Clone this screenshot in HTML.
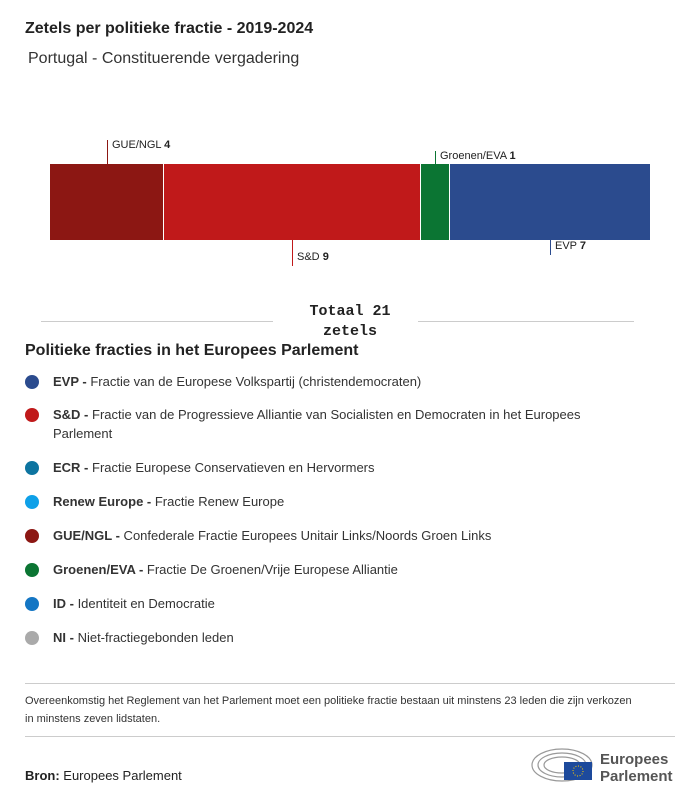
<!DOCTYPE html>
<html><head><meta charset="utf-8"><style>
body{margin:0;width:700px;height:801px;background:#fff;font-family:"Liberation Sans",sans-serif;color:#222;position:relative;overflow:hidden}
.a{position:absolute}
.lbl{font-size:11px;white-space:nowrap}
.leg{position:absolute;left:25px;font-size:13px;color:#333;width:600px;line-height:19px}
.leg i{position:absolute;left:0;top:3px;width:14px;height:14px;border-radius:50%}
.leg span{display:block;margin-left:28px}
.hr{position:absolute;height:1px;background:#ccc}
</style></head><body>
<div class="a" style="left:25px;top:20px;font-size:16px;font-weight:bold">Zetels per politieke fractie - 2019-2024</div>
<div class="a" style="left:28px;top:50px;font-size:16px;color:#333">Portugal - Constituerende vergadering</div>

<div class="a" style="left:50px;top:164px;width:113px;height:76px;background:#8c1713"></div>
<div class="a" style="left:164px;top:164px;width:256px;height:76px;background:#c0191a"></div>
<div class="a" style="left:421px;top:164px;width:28px;height:76px;background:#0b7533"></div>
<div class="a" style="left:450px;top:164px;width:200px;height:76px;background:#2b4b8e"></div>

<div class="a" style="left:107px;top:140px;width:1px;height:24px;background:#8c1713"></div>
<div class="a lbl" style="left:112px;top:139px">GUE/NGL <b>4</b></div>
<div class="a" style="left:435px;top:151px;width:1px;height:13px;background:#0b7533"></div>
<div class="a lbl" style="left:440px;top:150px">Groenen/EVA <b>1</b></div>
<div class="a" style="left:292px;top:240px;width:1px;height:26px;background:#c0191a"></div>
<div class="a lbl" style="left:297px;top:251px">S&amp;D <b>9</b></div>
<div class="a" style="left:550px;top:240px;width:1px;height:15px;background:#2b4b8e"></div>
<div class="a lbl" style="left:555px;top:240px">EVP <b>7</b></div>

<div class="hr" style="left:41px;top:321px;width:232px"></div>
<div class="hr" style="left:418px;top:321px;width:216px"></div>
<div class="a" style="left:280px;top:302px;width:140px;text-align:center;font-family:'Liberation Mono',monospace;font-weight:bold;font-size:15px;line-height:20px">Totaal 21<br>zetels</div>

<div class="a" style="left:25px;top:342px;font-size:16px;font-weight:bold">Politieke fracties in het Europees Parlement</div>
<div class="leg" style="top:372px"><i style="background:#2b4b8e"></i><span><b>EVP -</b> Fractie van de Europese Volkspartij (christendemocraten)</span></div>
<div class="leg" style="top:405px"><i style="background:#c0191a"></i><span><b>S&amp;D -</b> Fractie van de Progressieve Alliantie van Socialisten en Democraten in het Europees Parlement</span></div>
<div class="leg" style="top:458px"><i style="background:#0d74a0"></i><span><b>ECR -</b> Fractie Europese Conservatieven en Hervormers</span></div>
<div class="leg" style="top:492px"><i style="background:#0ea0e8"></i><span><b>Renew Europe -</b> Fractie Renew Europe</span></div>
<div class="leg" style="top:526px"><i style="background:#8c1713"></i><span><b>GUE/NGL -</b> Confederale Fractie Europees Unitair Links/Noords Groen Links</span></div>
<div class="leg" style="top:560px"><i style="background:#0b7533"></i><span><b>Groenen/EVA -</b> Fractie De Groenen/Vrije Europese Alliantie</span></div>
<div class="leg" style="top:594px"><i style="background:#1476c4"></i><span><b>ID -</b> Identiteit en Democratie</span></div>
<div class="leg" style="top:628px"><i style="background:#aaa"></i><span><b>NI -</b> Niet-fractiegebonden leden</span></div>

<div class="hr" style="left:25px;top:683px;width:650px"></div>
<div class="a" style="left:25px;top:692px;width:610px;font-size:11px;line-height:18px;color:#333">Overeenkomstig het Reglement van het Parlement moet een politieke fractie bestaan uit minstens 23 leden die zijn verkozen in minstens zeven lidstaten.</div>
<div class="hr" style="left:25px;top:736px;width:650px"></div>
<div class="a" style="left:25px;top:768px;font-size:13px"><b>Bron:</b> Europees Parlement</div>

<svg class="a" style="left:530px;top:745px" width="66" height="40" viewBox="0 0 66 40">
<g fill="none" stroke="#999" stroke-width="1.2">
<ellipse cx="32" cy="20" rx="30" ry="16"/><ellipse cx="32" cy="20" rx="24" ry="12"/><ellipse cx="32" cy="20" rx="18" ry="8"/></g>
<rect x="34" y="17" width="28" height="18" fill="#1d4a9c"/>
<circle cx="48" cy="26" r="5" fill="none" stroke="#fc0" stroke-width="1" stroke-dasharray="1 1.6"/>
</svg>
<div class="a" style="left:600px;top:751px;font-size:15px;font-weight:bold;color:#555;line-height:17px">Europees<br>Parlement</div>
</body></html>
